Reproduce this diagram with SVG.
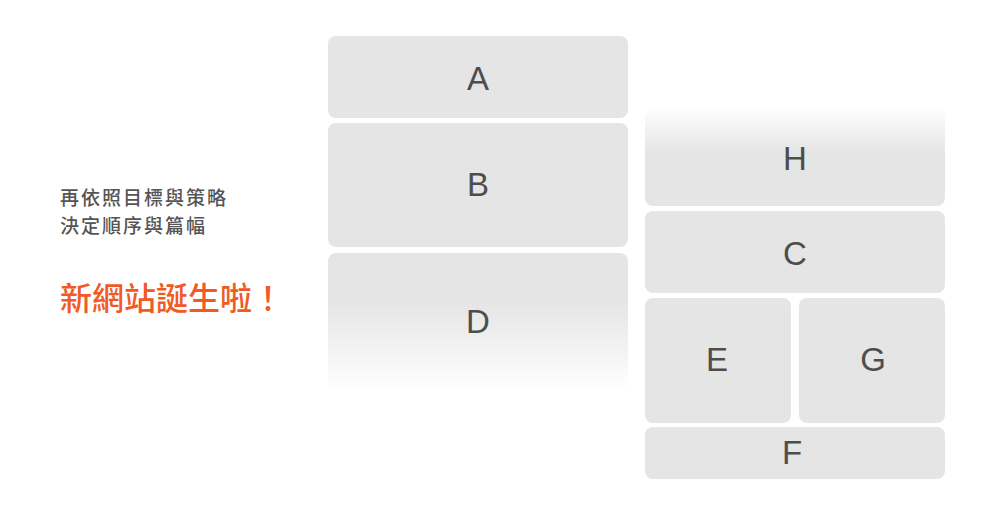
<svg xmlns="http://www.w3.org/2000/svg" width="1000" height="514" viewBox="0 0 1000 514">
<style>
.box{fill:#e5e5e5}
.lbl{font-family:"Liberation Sans",Arial,sans-serif;font-size:33px;fill:#4d4d4d;text-anchor:middle}
.note{font-family:"Noto Sans CJK TC","Noto Sans CJK SC",sans-serif;font-size:19px;letter-spacing:2px;font-weight:500;fill:#555555}
.big{font-family:"Noto Sans CJK TC","Noto Sans CJK SC",sans-serif;font-size:32px;font-weight:500;fill:#f15a24}
</style>
<defs>
<linearGradient id="fadeDown" x1="0" y1="0" x2="0" y2="1">
<stop offset="0" stop-color="#e5e5e5"/>
<stop offset="0.35" stop-color="#e5e5e5"/>
<stop offset="1" stop-color="#ffffff"/>
</linearGradient>
<linearGradient id="fadeUp" x1="0" y1="0" x2="0" y2="1">
<stop offset="0" stop-color="#ffffff"/>
<stop offset="0.45" stop-color="#e5e5e5"/>
<stop offset="1" stop-color="#e5e5e5"/>
</linearGradient>
</defs>
<rect width="1000" height="514" fill="#ffffff"/>
<g id="text">
<text class="note" x="60" y="205">再依照目標與策略</text>
<text class="note" x="60" y="233">決定順序與篇幅</text>
<text class="big" x="60" y="310">新網站誕生啦！</text>
</g>
<g id="A"><rect class="box" x="328" y="36" width="300" height="82" rx="8"/><text class="lbl" x="478" y="90">A</text></g>
<g id="B"><rect class="box" x="328" y="123" width="300" height="124" rx="8"/><text class="lbl" x="478" y="196">B</text></g>
<g id="D"><rect x="328" y="253" width="300" height="138" rx="8" fill="url(#fadeDown)"/><text class="lbl" x="478" y="333">D</text></g>
<g id="H"><rect x="645" y="108" width="300" height="98" rx="8" fill="url(#fadeUp)"/><text class="lbl" x="795" y="170">H</text></g>
<g id="C"><rect class="box" x="645" y="211" width="300" height="82" rx="8"/><text class="lbl" x="795" y="265">C</text></g>
<g id="E"><rect class="box" x="645" y="298" width="146" height="125" rx="8"/><text class="lbl" x="717" y="371">E</text></g>
<g id="G"><rect class="box" x="799" y="298" width="146" height="125" rx="8"/><text class="lbl" x="873" y="371">G</text></g>
<g id="F"><rect class="box" x="645" y="427" width="300" height="52" rx="8"/><text class="lbl" x="792" y="464">F</text></g>
<g id="connectors"/>
</svg>
